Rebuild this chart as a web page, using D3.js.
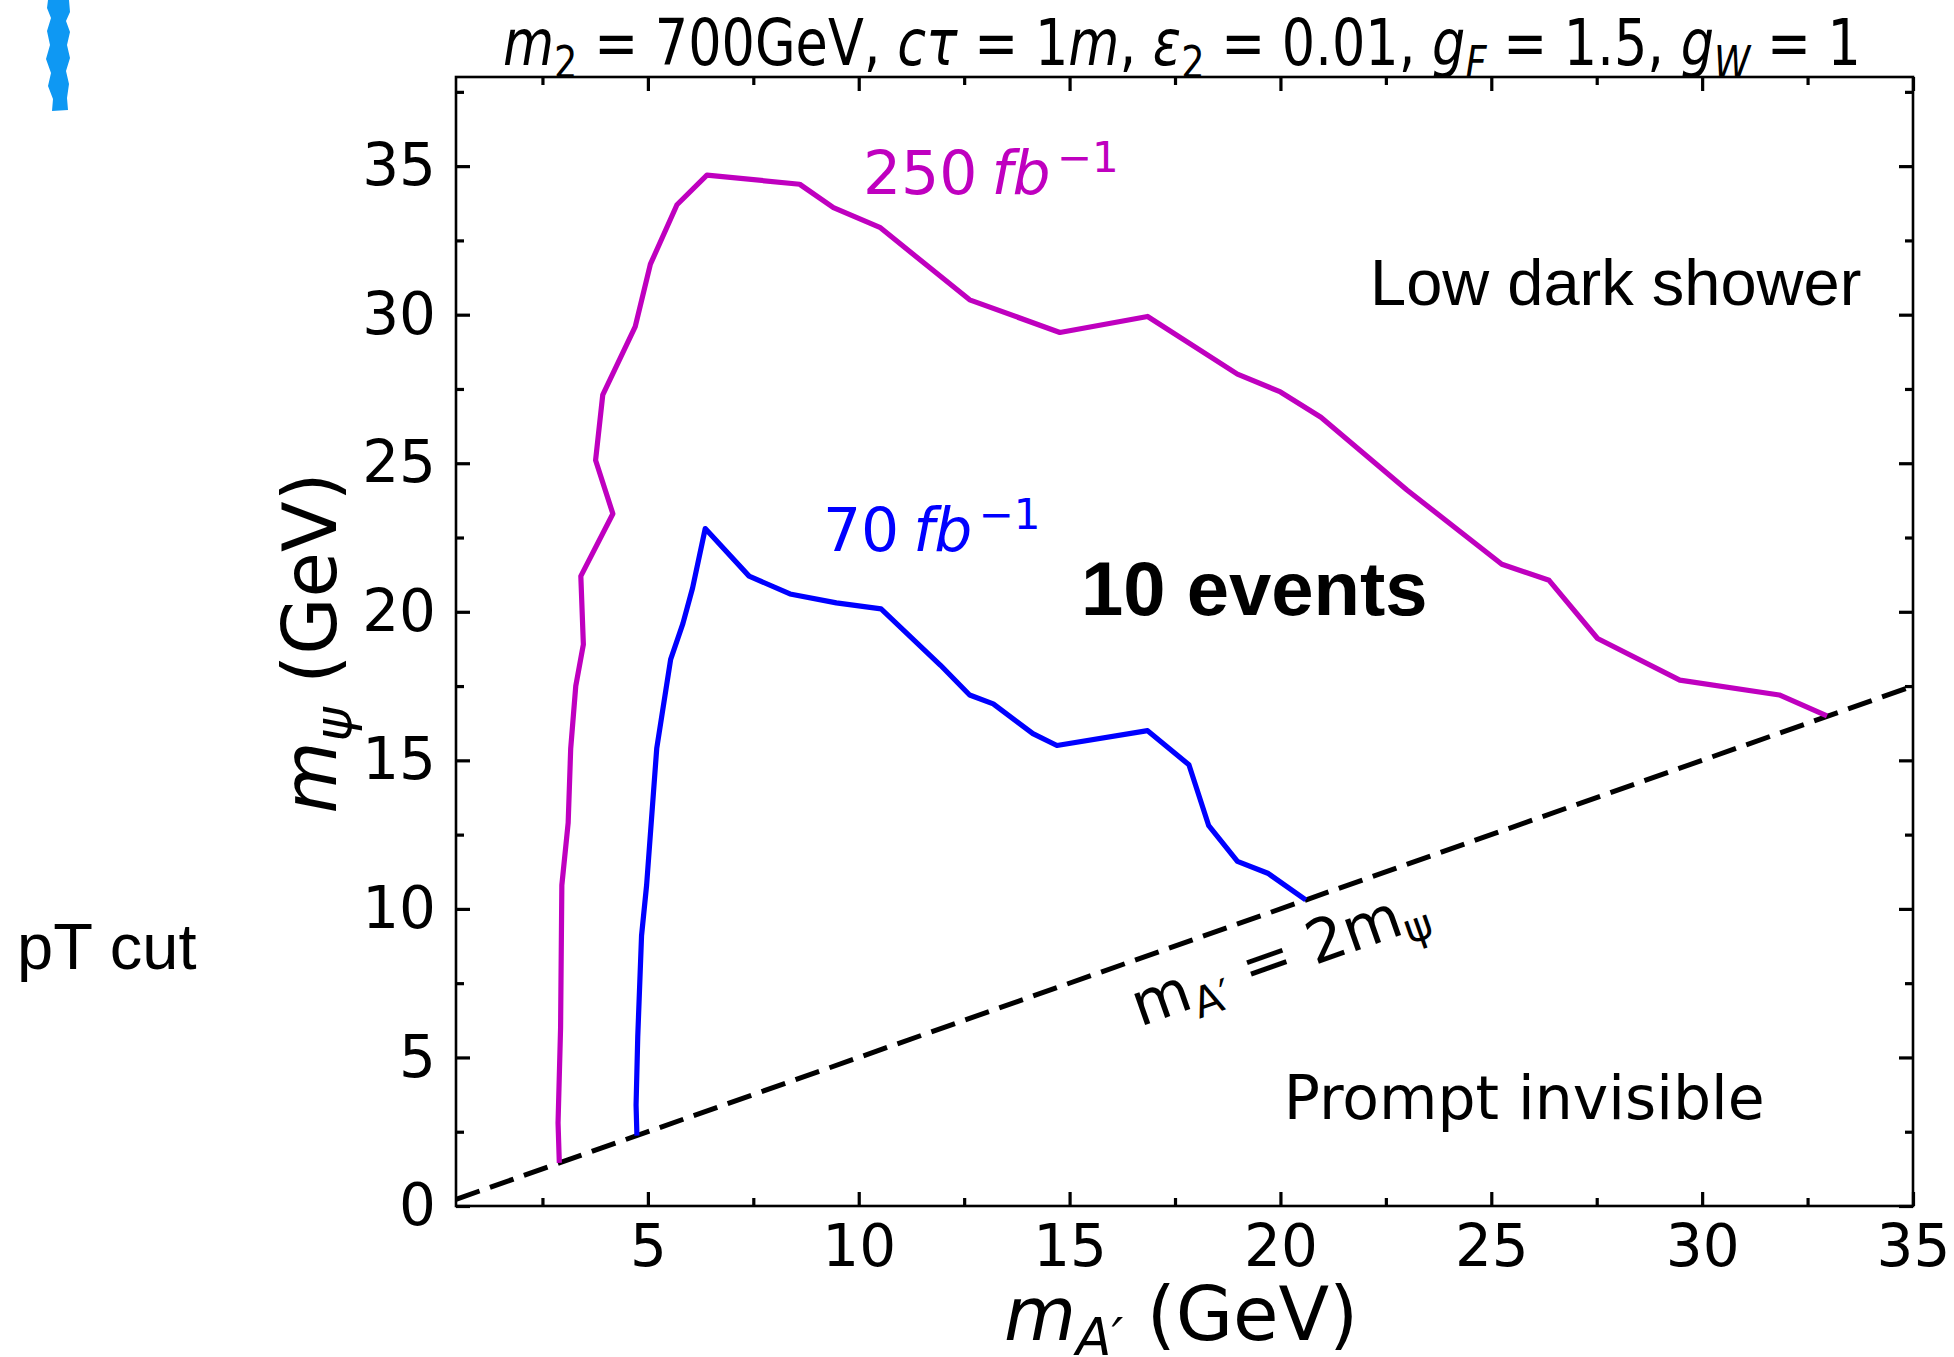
<!DOCTYPE html>
<html>
<head>
<meta charset="utf-8">
<script src="https://cdn.jsdelivr.net/npm/d3@7"></script>
<style>
  body { margin: 0; background: #fff; }
  svg text { font-family: "DejaVu Sans", sans-serif; }
</style>
</head>
<body>
<div id="chart"></div>
<script>
// 250 fb^-1 contour (m_A', m_psi) in GeV
var mA_250 = [2.90, 2.87, 2.93, 2.96, 3.11, 3.17, 3.29, 3.47, 3.41, 4.17, 3.76, 3.93, 4.70, 5.06, 5.69, 6.40,
              8.60, 9.40, 10.50, 12.63, 14.77, 16.85, 18.98, 20.0, 20.96, 23.0, 25.25, 26.37, 27.52, 29.47, 31.83, 32.96];
var mPsi_250 = [1.45, 2.8, 6.0, 10.8, 12.9, 15.4, 17.5, 18.9, 21.2, 23.3, 25.1, 27.3, 29.6, 31.7, 33.7, 34.7,
                34.39, 33.6, 32.94, 30.5, 29.4, 29.94, 28.0, 27.4, 26.55, 24.1, 21.6, 21.06, 19.1, 17.7, 17.2, 16.5];

// 70 fb^-1 contour
var mA_70 = [4.74, 4.72, 4.76, 4.85, 4.97, 5.21, 5.54, 5.83, 6.06, 6.36, 7.40, 8.37, 9.47, 10.53, 11.94, 12.63,
             13.19, 14.13, 14.70, 16.85, 17.83, 18.30, 18.98, 19.70, 20.60];
var mPsi_70 = [2.37, 3.4, 5.7, 9.1, 10.8, 15.4, 18.4, 19.6, 20.8, 22.8, 21.2, 20.6, 20.3, 20.1, 18.2, 17.2,
               16.9, 15.9, 15.5, 16.0, 14.85, 12.8, 11.6, 11.2, 10.3];

// m_A' = 2 m_psi
var diagA = [0.45, 35];
var diagPsi = [0.225, 17.5];

var xMajor = [5, 10, 15, 20, 25, 30, 35];
var xMinor = [2.5, 7.5, 12.5, 17.5, 22.5, 27.5, 32.5];
var yMajor = [0, 5, 10, 15, 20, 25, 30, 35];
var yMinor = [2.5, 7.5, 12.5, 17.5, 22.5, 27.5, 32.5, 37.5];

var width = 1954, height = 1357;
var plot = {left: 456, right: 1913, top: 77, bottom: 1206};

var x = d3.scaleLinear().domain([0.45, 35]).range([plot.left, plot.right]);
var y = d3.scaleLinear().domain([0, 38]).range([plot.bottom, plot.top]);

var svg = d3.select("#chart").append("svg")
  .attr("width", width)
  .attr("height", height);

svg.append("rect").attr("width", width).attr("height", height).attr("fill", "#fff");

// blue brush mark top left
svg.append("path")
  .attr("d", "M48,0 L69,0 L70,12 L66,21 L70,32 L67,45 L70,58 L66,71 L69,84 L67,98 L68,110 L52,111 L53,99 L48,86 L51,73 L46,59 L50,45 L47,31 L51,18 L47,8 Z")
  .attr("fill", "#0e98f3");

// ticks, all four sides, pointing in
function tickGroup(axis, tx, ty, vals, size, withLabels, pad) {
  var g = svg.append("g")
    .attr("transform", "translate(" + tx + "," + ty + ")")
    .call(axis.tickValues(vals).tickSize(-size).tickPadding(pad || 0)
      .tickFormat(withLabels ? d3.format("d") : ""));
  g.select(".domain").remove();
  g.selectAll("line").attr("stroke", "#000").attr("stroke-width", 3.2);
  return g;
}

tickGroup(d3.axisBottom(x), 0, plot.bottom, xMinor, 8);
tickGroup(d3.axisTop(x), 0, plot.top, xMinor, 8);
tickGroup(d3.axisTop(x), 0, plot.top, xMajor, 14);
tickGroup(d3.axisLeft(y), plot.left, 0, yMinor, 8);
tickGroup(d3.axisRight(y), plot.right, 0, yMinor, 8);
tickGroup(d3.axisRight(y), plot.right, 0, yMajor, 14);

var xAx = tickGroup(d3.axisBottom(x), 0, plot.bottom, xMajor, 14, true, 19);
xAx.selectAll("text").style("font-size", "58px").attr("fill", "#000").attr("font-family", "DejaVu Sans");
var yAx = tickGroup(d3.axisLeft(y), plot.left, 0, yMajor, 14, true, 20);
yAx.selectAll("text").style("font-size", "58px").attr("fill", "#000").attr("font-family", "DejaVu Sans");

// frame
svg.append("rect")
  .attr("x", plot.left).attr("y", plot.top)
  .attr("width", plot.right - plot.left).attr("height", plot.bottom - plot.top)
  .attr("fill", "none").attr("stroke", "#000").attr("stroke-width", 2.6);

var line = d3.line().x(d => x(d[0])).y(d => y(d[1]));

// diagonal m_A' = 2 m_psi
svg.append("path")
  .datum(d3.zip(diagA, diagPsi))
  .attr("d", line)
  .attr("fill", "none").attr("stroke", "#000")
  .attr("stroke-width", 5).attr("stroke-dasharray", "25,11");

svg.append("path")
  .datum(d3.zip(mA_250, mPsi_250))
  .attr("d", line)
  .attr("fill", "none").attr("stroke", "#bf00bf").attr("stroke-width", 5.2)
  .attr("stroke-linejoin", "round");

svg.append("path")
  .datum(d3.zip(mA_70, mPsi_70))
  .attr("d", line)
  .attr("fill", "none").attr("stroke", "#0000ff").attr("stroke-width", 5.2)
  .attr("stroke-linejoin", "round");

// rich text helper: parts = [text, style, dx]; style: i, sub, isub, sup
function richText(sel, parts, size) {
  var shift = 0;
  parts.forEach(function(p) {
    var s = p[1] || "";
    var target = 0;
    if (s.indexOf("sub") >= 0) target = 0.2 * size;
    if (s.indexOf("sup") >= 0) target = -0.38 * size;
    var t = sel.append("tspan").text(p[0]).attr("dy", target - shift);
    if (p[2]) t.attr("dx", p[2]);
    shift = target;
    if (s.indexOf("i") === 0) t.style("font-style", "italic");
    if (target !== 0) t.style("font-size", (0.7 * size) + "px");
  });
}

// title, horizontally condensed like the original
var title = svg.append("text")
  .attr("transform", "translate(1182,65) scale(0.82,1)")
  .attr("text-anchor", "middle")
  .style("font-size", "64px");
richText(title, [["m", "i"], ["2", "sub"], [" = 700GeV, "], ["cτ", "i"], [" = 1"], ["m", "i"], [", "],
  ["ε", "i"], ["2", "sub"], [" = 0.01, "], ["g", "i"], ["F", "isub"], [" = 1.5, "], ["g", "i"], ["W", "isub"], [" = 1"]], 64);

// axis labels
var xl = svg.append("text")
  .attr("x", 1181).attr("y", 1340)
  .attr("text-anchor", "middle")
  .style("font-size", "74px");
richText(xl, [["m", "i"], ["A′", "isub"], [" (GeV)"]], 74);

var yl = svg.append("text")
  .attr("transform", "translate(336,643) rotate(-90)")
  .attr("text-anchor", "middle")
  .style("font-size", "74px");
richText(yl, [["m", "i"], ["ψ", "isub"], [" (GeV)"]], 74);

// luminosity labels
var l250 = svg.append("text")
  .attr("x", x(10.10)).attr("y", y(34.05))
  .attr("fill", "#bf00bf").style("font-size", "60px");
richText(l250, [["250"], ["fb", "i", 14], ["−1", "sup", 6]], 60);

var l70 = svg.append("text")
  .attr("x", x(9.15)).attr("y", y(22.03))
  .attr("fill", "#0000ff").style("font-size", "60px");
richText(l70, [["70"], ["fb", "i", 14], ["−1", "sup", 6]], 60);

// diagonal label
var ang = Math.atan2(y(0) - y(0.5), x(1) - x(0)) * 180 / Math.PI;
var dl = svg.append("text")
  .attr("transform", "translate(" + x(16.67) + "," + y(6.03) + ") rotate(" + (-ang) + ")")
  .style("font-size", "60px");
richText(dl, [["m"], ["A′", "sub"], [" = 2m"], ["ψ", "sub"]], 60);

svg.append("text")
  .attr("x", x(20.08)).attr("y", y(2.93))
  .style("font-size", "60px")
  .text("Prompt invisible");

// overlay notes
svg.append("text")
  .attr("x", 1370).attr("y", 305)
  .style("font-family", "'Liberation Sans', Arial, sans-serif")
  .style("font-size", "65px")
  .text("Low dark shower");

svg.append("text")
  .attr("x", 1081).attr("y", 615)
  .style("font-family", "'Liberation Sans', Arial, sans-serif")
  .style("font-size", "76px").style("font-weight", "bold")
  .text("10 events");

svg.append("text")
  .attr("x", 17).attr("y", 969)
  .style("font-family", "'Liberation Sans', Arial, sans-serif")
  .style("font-size", "65px")
  .text("pT cut");
</script>
</body>
</html>
